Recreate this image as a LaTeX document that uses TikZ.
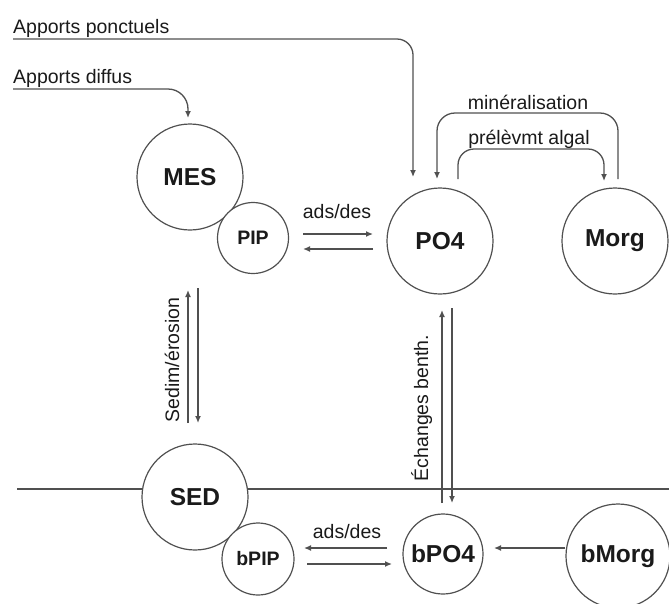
\documentclass[tikz,border=0pt]{standalone}
\usepackage{fontspec}
\setmainfont{Liberation Sans}
\usetikzlibrary{arrows.meta,calc}
\definecolor{lncol}{HTML}{505050}
\definecolor{txtcol}{HTML}{1A1A1A}
\begin{document}
\begin{tikzpicture}[x=1pt,y=-1pt,
  ln/.style={draw=lncol,line width=1.3pt},
  arr/.style={ln,-{Latex[length=7pt,width=6pt]}},
  bub/.style={circle,draw=lncol,line width=1.2pt,fill=white,inner sep=0pt,text=txtcol,font=\bfseries\fontsize{24.5}{28}\selectfont},
  sbub/.style={bub,font=\bfseries\fontsize{19.5}{22}\selectfont},
  lbl/.style={font=\fontsize{19.5}{22}\selectfont,text=txtcol,inner sep=0pt}]
\useasboundingbox (0,0) rectangle (669,603);
\clip (0,0) rectangle (669,603);
% sediment interface
\coordinate (h0) at (17,489);
\coordinate (h1) at (669,489);
\draw[ln] (h0) -- (h1);
% compartments
\node[bub,minimum size=106pt] (MES) at (190,177) {MES};
\node[sbub,minimum size=71pt] (PIP) at (253,238) {PIP};
\node[bub,minimum size=106pt] (PO4) at (440,241) {PO4};
\node[bub,minimum size=106pt] (Morg) at (615,241) {Morg};
\node[bub,minimum size=106pt] (SED) at (195,497) {SED};
\node[sbub,minimum size=72pt] (bPIP) at (258,559) {bPIP};
\node[bub,minimum size=80pt] (bPO4) at (443,554) {bPO4};
\node[bub,minimum size=104pt] (bMorg) at (618,556) {bMorg};
% labels
\node[lbl,anchor=base west] (tp) at (13,33) {Apports ponctuels};
\node[lbl,anchor=base west] (td) at (13,83) {Apports diffus};
\node[lbl,anchor=base] (tmin) at (528,109) {minéralisation};
\node[lbl,anchor=base] (tpre) at (529,144) {prélèvmt algal};
\node[lbl,anchor=base] (tads) at (337,218) {ads/des};
\node[lbl,anchor=base] (tads2) at (347,538) {ads/des};
\node[lbl,anchor=base,rotate=90] (tsed) at (179,360) {Sedim/érosion};
\node[lbl,anchor=base,rotate=90] (tech) at (428,408) {Échanges benth.};
% inputs
\coordinate (p0) at (13,39);
\coordinate (p1) at (413,177);
\draw[arr,rounded corners=16pt] (p0) -| (p1);
\coordinate (d0) at (13,89);
\coordinate (d1) at (188,118);
\draw[arr,rounded corners=20pt] (d0) -| (d1);
% mineralisation / uptake
\coordinate (m0) at (618,179);
\coordinate (mtop) at (528,113);
\coordinate (m1) at (437,179);
\draw[arr,rounded corners=18pt] (m0) |- (mtop) -| (m1);
\coordinate (u0) at (458,179);
\coordinate (utop) at (530,149);
\coordinate (u1) at (604,181);
\draw[arr,rounded corners=16pt] (u0) |- (utop) -| (u1);
% ads/des water
\coordinate (a1) at (303,234);
\coordinate (a2) at (373,234);
\coordinate (a3) at (373,249);
\coordinate (a4) at (303,249);
\draw[arr] (a1) -- (a2);
\draw[arr] (a3) -- (a4);
% sedimentation / erosion
\coordinate (s1) at (188,423);
\coordinate (s2) at (188,290);
\coordinate (s3) at (198,288);
\coordinate (s4) at (198,423);
\draw[arr] (s1) -- (s2);
\draw[arr] (s3) -- (s4);
% benthic exchanges
\coordinate (e1) at (442,503);
\coordinate (e2) at (442,310);
\coordinate (e3) at (452,308);
\coordinate (e4) at (452,503);
\draw[arr] (e1) -- (e2);
\draw[arr] (e3) -- (e4);
% ads/des sediment
\coordinate (b1) at (387,548);
\coordinate (b2) at (304,548);
\coordinate (b3) at (307,564);
\coordinate (b4) at (392,564);
\draw[arr] (b1) -- (b2);
\draw[arr] (b3) -- (b4);
% bMorg -> bPO4
\coordinate (c1) at (494,548);
\draw[arr] (bMorg.west |- c1) -- (c1);
\end{tikzpicture}
\end{document}
